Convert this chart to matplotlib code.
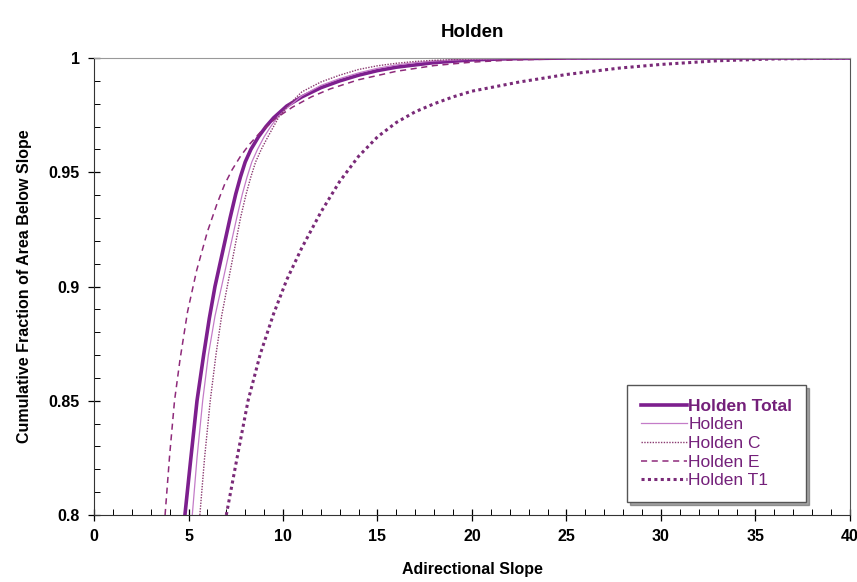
import matplotlib
matplotlib.use('Agg')
import matplotlib.pyplot as plt
from matplotlib.ticker import MultipleLocator, FuncFormatter

# --- Cumulative slope distributions (slope, fraction of area below slope) ---
total_x = [4.81, 5.1, 5.45, 5.8, 6.1, 6.4, 6.8, 7.2, 7.5, 7.75, 8.0, 8.3, 8.7, 9.1, 9.5,
           10.2, 11, 12, 13, 14, 15, 16, 17, 18, 20, 22, 25, 40]
total_y = [0.800, 0.823, 0.850, 0.870, 0.886, 0.900, 0.915, 0.930, 0.9405, 0.948, 0.9545,
           0.960, 0.9655, 0.970, 0.9738, 0.979, 0.983, 0.987, 0.990, 0.9925, 0.9945,
           0.996, 0.997, 0.998, 0.9992, 0.9997, 1.0, 1.0]

holden_x = [5.2, 5.45, 5.75, 6.05, 6.4, 6.75, 7.15, 7.55, 7.85, 8.1, 8.35, 8.65, 9.0, 9.35,
            9.7, 10.2, 11, 12, 13, 14, 15, 16, 17, 18, 20, 22, 25, 40]
holden_y = [0.800, 0.825, 0.850, 0.870, 0.887, 0.900, 0.915, 0.930, 0.9405, 0.948, 0.9545,
            0.960, 0.9655, 0.970, 0.974, 0.978, 0.9835, 0.988, 0.991, 0.9935, 0.9955,
            0.997, 0.998, 0.9987, 0.9995, 0.9998, 1.0, 1.0]

c_x = [5.6, 5.85, 6.15, 6.45, 6.75, 7.05, 7.4, 7.75, 8.05, 8.3, 8.55, 8.85, 9.2, 9.5,
       9.8, 10.3, 11, 12, 13, 14, 15, 16, 17, 18, 20, 22, 25, 40]
c_y = [0.800, 0.825, 0.850, 0.870, 0.887, 0.900, 0.915, 0.930, 0.9405, 0.948, 0.9545,
       0.960, 0.9655, 0.970, 0.9745, 0.9795, 0.9852, 0.9895, 0.9925, 0.995, 0.9966,
       0.9977, 0.9985, 0.999, 0.9996, 0.9999, 1.0, 1.0]

e_x = [3.76, 4.0, 4.26, 4.55, 4.95, 5.43, 6.0, 6.5, 6.9, 7.3, 7.75, 8.2, 8.8, 9.6, 10.5,
       11.5, 12.5, 14, 16, 18, 20, 22, 25, 30, 40]
e_y = [0.800, 0.826, 0.850, 0.868, 0.889, 0.907, 0.924, 0.936, 0.9445, 0.951, 0.957,
       0.962, 0.9675, 0.9735, 0.9785, 0.983, 0.9865, 0.9905, 0.9942, 0.9967, 0.9982,
       0.9991, 0.9997, 1.0, 1.0]

t1_x = [7.0, 7.5, 8.15, 8.8, 9.5, 10.2, 11, 12, 13, 14, 15, 16, 17, 18, 19, 20, 22.5,
        25, 27.8, 30, 33, 36, 40]
t1_y = [0.800, 0.822, 0.850, 0.8705, 0.888, 0.903, 0.917, 0.9325, 0.946, 0.957, 0.9655,
        0.9718, 0.9765, 0.980, 0.983, 0.9855, 0.9895, 0.9928, 0.9956, 0.9972, 0.9988,
        0.9996, 1.0]

plt.rcParams['font.family'] = ['Liberation Sans', 'DejaVu Sans']

fig = plt.figure(figsize=(8.57, 5.82), dpi=100)
ax = fig.add_axes([0.1097, 0.1151, 0.8821, 0.7852])

ax.plot(total_x, total_y, color='#7d1f8e', lw=2.6, label='Holden Total')
ax.plot(holden_x, holden_y, color='#c47cc8', lw=0.9, label='Holden')
ax.plot(c_x, c_y, color='#8a3a70', lw=1.0, linestyle=(0, (1, 1)), label='Holden C')
ax.plot(e_x, e_y, color='#8e2a7a', lw=1.1, linestyle=(0, (4, 3)), label='Holden E')
ax.plot(t1_x, t1_y, color='#7a2a78', lw=2.2, linestyle=(0, (1, 1.1)), label='Holden T1')

ax.set_xlim(0, 40)
ax.set_ylim(0.8, 1.0)
ax.xaxis.set_major_locator(MultipleLocator(5))
ax.xaxis.set_minor_locator(MultipleLocator(1))
ax.yaxis.set_major_locator(MultipleLocator(0.05))
ax.yaxis.set_minor_locator(MultipleLocator(0.01))
ax.yaxis.set_major_formatter(FuncFormatter(lambda v, p: ('%.2f' % v).rstrip('0').rstrip('.')))

ax.tick_params(axis='both', which='major', direction='inout', length=8, width=0.9,
               labelsize=11.5, pad=6)
ax.tick_params(axis='both', which='minor', direction='in', length=4, width=0.7)
for lbl in ax.get_xticklabels() + ax.get_yticklabels():
    lbl.set_fontweight('bold')

ax.spines['top'].set_color('#999999')
ax.spines['right'].set_color('#555555')
ax.spines['left'].set_color('#333333')
ax.spines['bottom'].set_color('#333333')

ax.set_title('Holden', fontsize=13.5, fontweight='bold', pad=15)
ax.set_xlabel('Adirectional Slope', fontsize=11.5, fontweight='bold', labelpad=13)
ax.set_ylabel('Cumulative Fraction of Area Below Slope', fontsize=11.5, fontweight='bold',
              labelpad=12)

leg = ax.legend(loc='lower right', bbox_to_anchor=(0.942, 0.028), fontsize=12.5,
                handlelength=2.6, handletextpad=0.1, labelspacing=0.2,
                borderpad=0.8, fancybox=False, shadow=True, framealpha=1,
                edgecolor='#555555', borderaxespad=0)
for txt in leg.get_texts():
    txt.set_color('#74207a')
leg.get_texts()[0].set_fontweight('bold')

fig.savefig('out.png', dpi=100)
